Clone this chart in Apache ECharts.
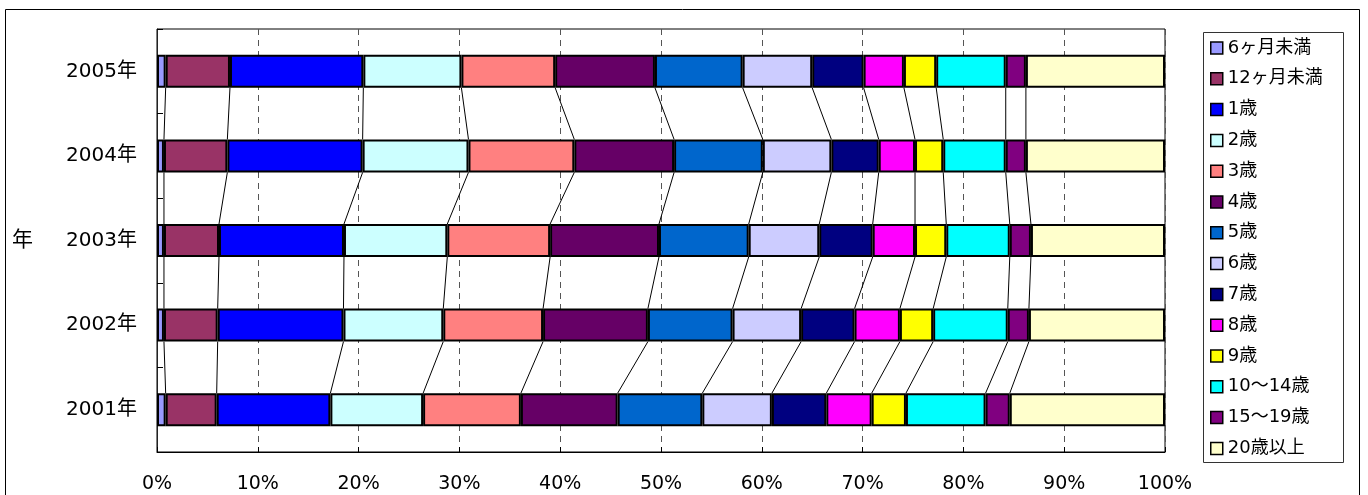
<!DOCTYPE html>
<html>
<head>
<meta charset="utf-8">
<script src="https://cdn.jsdelivr.net/npm/echarts@6/dist/echarts.min.js"></script>
<style>
  html, body { margin: 0; padding: 0; background: #fff; }
  #chart { width: 1368px; height: 495px; }
</style>
</head>
<body>
<div id="chart"></div>
<script>
// Age composition by year (percent of total), stacked to 100%
const years = ['2001年', '2002年', '2003年', '2004年', '2005年'];
const xTicks = [0, 10, 20, 30, 40, 50, 60, 70, 80, 90, 100];

const under6m   = [0.86, 0.69, 0.69, 0.69, 0.86];
const under12m  = [5.06, 5.33, 5.46, 6.29, 6.38];
const age1      = [11.28, 12.48, 12.40, 13.42, 13.23];
const age2      = [9.2, 9.9, 10.25, 10.5, 9.73];
const age3      = [9.7, 9.9, 10.2, 10.5, 9.3];
const age4      = [9.6, 10.4, 10.8, 9.9, 9.9];
const age5      = [8.4, 8.4, 8.9, 8.8, 8.7];
const age6      = [6.9, 6.8, 7.0, 6.8, 6.9];
const age7      = [5.4, 5.3, 5.3, 4.7, 5.1];
const age8      = [4.5, 4.5, 4.2, 3.6, 4.0];
const age9      = [3.4, 3.3, 3.1, 2.8, 3.2];
const age10to14 = [7.9, 7.4, 6.3, 6.2, 6.9];
const age15to19 = [2.4, 2.1, 2.1, 2.0, 2.0];
const age20plus = [15.4, 13.5, 13.3, 13.8, 13.8];

const seriesNames = ['6ヶ月未満', '12ヶ月未満', '1歳', '2歳', '3歳', '4歳', '5歳', '6歳',
  '7歳', '8歳', '9歳', '10～14歳', '15～19歳', '20歳以上'];
const seriesValues = [under6m, under12m, age1, age2, age3, age4, age5, age6,
  age7, age8, age9, age10to14, age15to19, age20plus];
const seriesColors = ['#9999FF', '#993366', '#0000FF', '#CCFFFF', '#FF8080', '#660066',
  '#0066CC', '#CCCCFF', '#000080', '#FF00FF', '#FFFF00', '#00FFFF', '#800080', '#FFFFCC'];

const BAR_RATIO = 0.39;
const FONT = "'DejaVu Sans', 'Noto Sans CJK JP', sans-serif";

// running totals at each segment boundary, per year
const cumulative = seriesValues.map(() => []);
years.forEach((_, yi) => {
  let run = 0;
  seriesValues.forEach((vals, si) => {
    run += vals[yi];
    cumulative[si][yi] = run;
  });
});

const barSeries = seriesNames.map((name, si) => ({
  name: name,
  type: 'bar',
  stack: 'total',
  barWidth: (BAR_RATIO * 100) + '%',
  data: seriesValues[si],
  itemStyle: { color: seriesColors[si], borderColor: '#000', borderWidth: 2 },
  emphasis: { disabled: true },
  z: 3
}));

// connector lines between consecutive bars at each boundary (except the 100% edge)
const connectorSeries = {
  type: 'custom',
  silent: true,
  z: 2,
  data: years.slice(0, -1).map((_, i) => [0, i]),
  encode: { x: 0, y: 1 },
  renderItem: function (params, api) {
    const i = api.value(1);
    const band = api.size([0, 1])[1];
    const half = band * BAR_RATIO / 2;
    const children = [];
    for (let k = 0; k < seriesNames.length - 1; k++) {
      const p0 = api.coord([cumulative[k][i], i]);
      const p1 = api.coord([cumulative[k][i + 1], i + 1]);
      children.push({
        type: 'line',
        shape: { x1: p0[0], y1: p0[1] - half, x2: p1[0], y2: p1[1] + half },
        style: { stroke: '#000', lineWidth: 1 }
      });
    }
    return { type: 'group', children: children };
  }
};

const chart = echarts.init(document.getElementById('chart'), null, { renderer: 'canvas' });
chart.setOption({
  animation: false,
  backgroundColor: '#fff',
  textStyle: { fontFamily: FONT },
  grid: { left: 157, right: 203, top: 29, bottom: 43, show: true, borderColor: '#000', borderWidth: 1 },
  xAxis: {
    type: 'value',
    min: xTicks[0],
    max: xTicks[xTicks.length - 1],
    interval: xTicks[1] - xTicks[0],
    axisLine: { show: true, lineStyle: { color: '#000', width: 1 } },
    axisTick: { show: true, inside: true, length: 5, lineStyle: { color: '#000' } },
    splitLine: { show: true, lineStyle: { color: '#555', type: [6, 5], width: 1 } },
    axisLabel: { formatter: '{value}%', color: '#000', fontSize: 19, fontFamily: FONT, margin: 23 }
  },
  yAxis: {
    type: 'category',
    data: years,
    name: '年',
    nameLocation: 'middle',
    nameRotate: 0,
    nameGap: 124,
    nameTextStyle: { color: '#000', fontSize: 21, fontFamily: FONT },
    axisLine: { show: true, lineStyle: { color: '#222', width: 1 } },
    axisTick: { show: true, inside: true, length: 6, lineStyle: { color: '#000' } },
    axisLabel: { color: '#000', fontSize: 20, fontFamily: FONT, margin: 20 }
  },
  legend: {
    orient: 'vertical',
    left: 1203,
    top: 32,
    padding: [6, 0, 0, 7],
    data: seriesNames,
    itemWidth: 12,
    itemHeight: 12,
    itemGap: 10.8,
    icon: 'rect',
    selectedMode: false,
    itemStyle: { borderColor: '#000', borderWidth: 1.5 },
    textStyle: { color: '#000', fontSize: 18, fontFamily: FONT, lineHeight: 20 }
  },
  graphic: [
    { type: 'rect', silent: true, z: -10, shape: { x: 5.5, y: 9.5, width: 1354, height: 500 },
      style: { fill: 'none', stroke: '#000', lineWidth: 1 } },
    { type: 'rect', silent: true, z: -10, shape: { x: 1203.5, y: 32.5, width: 140, height: 430 },
      style: { fill: 'none', stroke: '#333', lineWidth: 1 } }
  ],
  series: barSeries.concat([connectorSeries])
});
</script>
</body>
</html>
